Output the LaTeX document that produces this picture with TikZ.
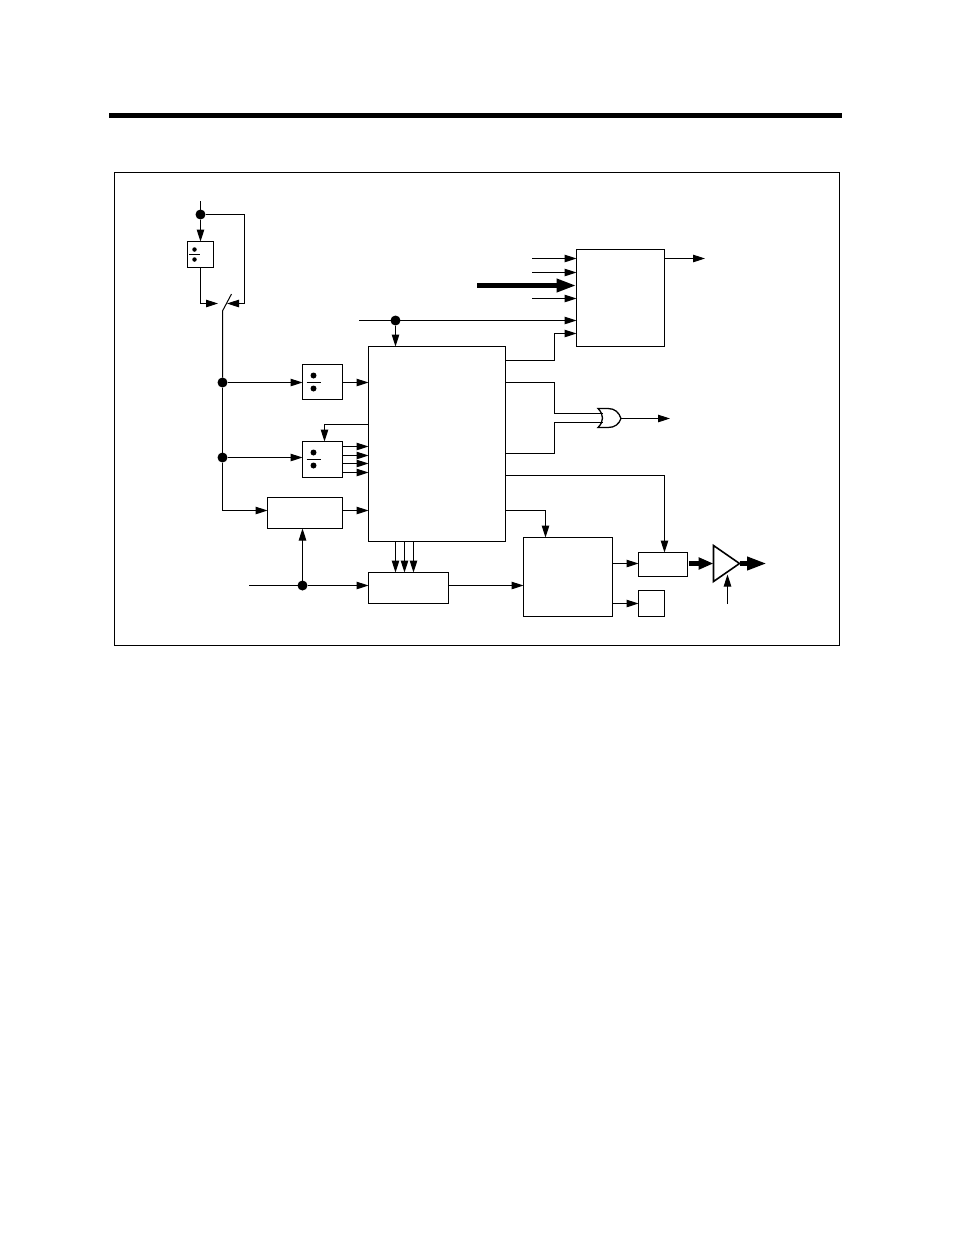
\documentclass[tikz,border=0pt]{standalone}
\usetikzlibrary{arrows.meta,calc}
\tikzset{
  wire/.style={line width=1pt,line join=miter},
  arr/.style={wire,-{Triangle[length=12pt,width=7.5pt]}},
  fatarr/.style={line width=5pt,-{Triangle[length=20pt,width=12.5pt]}},
  midarr/.style={line width=5pt,-{Triangle[length=15pt,width=11.5pt]}},
  box/.style={draw,line width=1pt,inner sep=0pt,outer sep=0pt,fill=white},
  jn/.style={circle,fill=black,inner sep=0pt,outer sep=0pt,minimum size=10pt},
  dv/.style={circle,fill=black,inner sep=0pt,outer sep=0pt,minimum size=#1},
  dv/.default=6pt
}
\begin{document}
\begin{tikzpicture}[x=1pt,y=-1pt]
\useasboundingbox (0,0) rectangle (954,1235);
\node[fill=black,inner sep=0pt,minimum width=733pt,minimum height=5.5pt] (bar) at (475.5,115.5) {};
\node[draw,line width=1pt,inner sep=0pt,minimum width=725pt,minimum height=473pt] (frame) at (477,409) {};
% blocks
\node[box,minimum width=26pt,minimum height=26pt] (adiv) at (200.5,254.5) {};
\node[box,minimum width=40pt,minimum height=35pt] (bdiv) at (322.5,382) {};
\node[box,minimum width=40pt,minimum height=36pt] (cdiv) at (322.5,459.5) {};
\node[box,minimum width=75pt,minimum height=31pt] (drect) at (305,513) {};
\node[box,minimum width=137pt,minimum height=195pt] (main) at (437,444) {};
\node[box,minimum width=80pt,minimum height=31pt] (erect) at (408.5,588) {};
\node[box,minimum width=88pt,minimum height=97pt] (fbox) at (620.5,298) {};
\node[box,minimum width=89pt,minimum height=79pt] (gbox) at (568,577) {};
\node[box,minimum width=49pt,minimum height=24pt] (hbox) at (663,564.5) {};
\node[box,minimum width=26pt,minimum height=26pt] (ibox) at (651.5,603.5) {};
% divide signs
\node[dv=4.5pt] (a1) at (194.5,249.5) {};
\node[dv=4.5pt] (a2) at (194.5,259.5) {};
\draw[wire] (189,254.5) -- (200,254.5);
\node[dv] (b1) at (313.5,375.5) {};
\node[dv] (b2) at (313.5,388.5) {};
\draw[wire] (306.5,382.5) -- (320.5,382.5);
\node[dv] (c1) at (313.5,452.5) {};
\node[dv] (c2) at (313.5,465.5) {};
\draw[wire] (306.5,459.5) -- (320.5,459.5);
% junctions
\node[jn] (j1) at (200.5,214.5) {};
\node[jn] (j2) at (222.5,382.5) {};
\node[jn] (j3) at (222.5,457.5) {};
\node[jn] (j4) at (302.5,585.5) {};
\node[jn] (j5) at (395.5,320.5) {};
% free ends
\coordinate (inA) at (200.5,201);
\coordinate (swL) at (218,303.5);
\coordinate (swR) at (227,303.5);
\coordinate (swA) at (222.5,311);
\coordinate (swB) at (231.5,294);
\coordinate (inE) at (249,585.5);
\coordinate (inP) at (359,320.5);
\coordinate (f1) at (532,258.5);
\coordinate (f2) at (532,272.5);
\coordinate (f3) at (477,285.5);
\coordinate (f4) at (532,298.5);
\coordinate (fo) at (705,258.5);
\coordinate (oo) at (670,418.5);
\coordinate (tin) at (727.5,604);
\coordinate (tout) at (767,563.5);
% left part
\draw[wire] (inA) -- (j1);
\draw[arr] (j1) -- (adiv.north);
\draw[wire] (j1) -- (244.5,214.5) -- (244.5,303.5) coordinate (rr);
\draw[arr] (rr) -- (swR);
\draw[arr] (adiv.south) |- (swL);
\draw[wire] (swB) -- (swA) -- (j2);
\draw[wire] (j2) -- (j3);
\draw[arr] (j2) -- (bdiv.west |- j2);
\draw[arr] (j3) -- (cdiv.west |- j3);
\draw[arr] (j3) |- (drect.west |- 0,510.5);
\draw[arr] (bdiv.east |- j2) -- (main.west |- j2);
\draw[arr] (main.west |- 0,424.5) -| (324.5,441.5);
\foreach \yy in {446.5,455.5,463.5,472.5}
  \draw[arr] (cdiv.east |- 0,\yy) -- (main.west |- 0,\yy);
\draw[arr] (drect.east |- 0,510.5) -- (main.west |- 0,510.5);
\draw[wire] (inE) -- (j4);
\draw[arr] (j4) -- (erect.west |- j4);
\draw[arr] (j4) -- (drect.south -| j4);
\foreach \xx in {395.5,404.5,413.5}
  \draw[arr] (main.south -| \xx,0) -- (erect.north -| \xx,0);
\draw[arr] (erect.east |- 0,585.5) -- (gbox.west |- 0,585.5);
% top right
\draw[arr] (f1) -- (fbox.west |- f1);
\draw[arr] (f2) -- (fbox.west |- f2);
\draw[fatarr] (f3) -- (fbox.west |- f3);
\draw[arr] (f4) -- (fbox.west |- f4);
\draw[arr] (inP) -- (fbox.west |- inP);
\draw[arr] (j5) -- (main.north -| j5);
\draw[arr] (main.east |- 0,360.5) -- (554.5,360.5) -- (554.5,333.5) -- (fbox.west |- 0,333.5);
\draw[arr] (fbox.east |- fo) -- (fo);
% OR gate
\draw[line width=1.3pt] (598,408.5) -- (608,408.5) .. controls (615,408.5) and (619,412.5) .. (621,418.5)
  .. controls (619,424) and (615,427.5) .. (608,427.5) -- (598,427.5)
  .. controls (604,421.5) and (604,414.5) .. (598,408.5) -- cycle;
\coordinate (orA) at (602.5,413.5);
\coordinate (orB) at (602.5,422.5);
\coordinate (orO) at (621,418.5);
\draw[wire] (main.east |- 0,382.5) -- (554.5,382.5) -- (554.5,413.5) -- (orA);
\draw[wire] (main.east |- 0,453.5) -- (554.5,453.5) -- (554.5,422.5) -- (orB);
\draw[arr] (orO) -- (oo);
% lower right
\draw[arr] (main.east |- 0,510.5) -| (gbox.north -| 545.5,0);
\draw[arr] (main.east |- 0,475.5) -| (hbox.north -| 664.5,0);
\draw[arr] (gbox.east |- 0,563.5) -- (hbox.west |- 0,563.5);
\draw[arr] (gbox.east |- 0,603.5) -- (ibox.west |- 0,603.5);
\draw[midarr] (689,563.5) -- (713.5,563.5);
\draw[fatarr] (739.5,563.5) -- (tout);
\path[draw,line width=1.6pt,fill=white,line join=miter] (713.5,545.5) coordinate (tA) -- (713.5,581.5) -- (739.5,563.5) coordinate (tB) -- cycle;
\draw[arr] (tin) -- (727.5,574.5);
\end{tikzpicture}
\end{document}
